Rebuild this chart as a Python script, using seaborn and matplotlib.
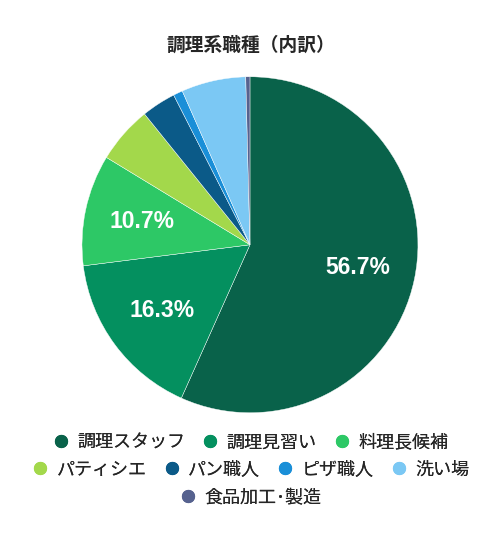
import matplotlib
matplotlib.use('Agg')
import matplotlib.pyplot as plt
from matplotlib.lines import Line2D
import seaborn as sns

# Data
categories = ['調理スタッフ', '調理見習い', '料理長候補', 'パティシエ',
              'パン職人', 'ピザ職人', '洗い場', '食品加工･製造']
shares = [56.7, 16.3, 10.7, 5.5, 3.3, 0.9, 6.2, 0.4]
colors = ['#09624a', '#04905f', '#2dc866', '#a3d84b',
          '#0b5a88', '#1a8fd8', '#7bc8f4', '#56628f']
legend_rows = [[0, 1, 2], [3, 4, 5, 6], [7]]

sns.set_style('white')
plt.rcParams['font.family'] = ['Liberation Sans', 'Noto Sans CJK JP', 'DejaVu Sans']

fig = plt.figure(figsize=(5.02, 5.35), dpi=100)
ax = fig.add_axes([0.1633, 0.2285, 0.6693, 0.628])

def pct(v):
    return f'{v:.1f}%' if v >= 10 else ''

wedges, texts, autotexts = ax.pie(
    shares, colors=colors, startangle=90, counterclock=False,
    autopct=pct, pctdistance=0.655,
    wedgeprops=dict(linewidth=0.3, edgecolor='white'),
    textprops=dict(color='white', fontsize=16.5, fontweight='bold'))
ax.set_xlim(-1, 1)
ax.set_ylim(-1, 1)
ax.set_aspect('equal')

fig.text(0.5, 1 - 45 / 535, '調理系職種（内訳）', ha='center', va='center',
         fontsize=13.5, fontweight='bold')

# Legend rows, each centred like the original
row_y = [443, 470, 498]
for row, y in zip(legend_rows, row_y):
    handles = [Line2D([0], [0], marker='o', linestyle='', markersize=8.5,
                      markerfacecolor=colors[i], markeredgecolor=colors[i])
               for i in row]
    labels = [categories[i] for i in row]
    leg = fig.legend(handles, labels, loc='center', bbox_to_anchor=(0.5, 1 - y / 535),
                     ncol=len(row), frameon=False, fontsize=13,
                     handlelength=0.8, handletextpad=0.5, columnspacing=1.0,
                     borderpad=0, borderaxespad=0)
    fig.add_artist(leg)

fig.savefig('out.png', dpi=100)
